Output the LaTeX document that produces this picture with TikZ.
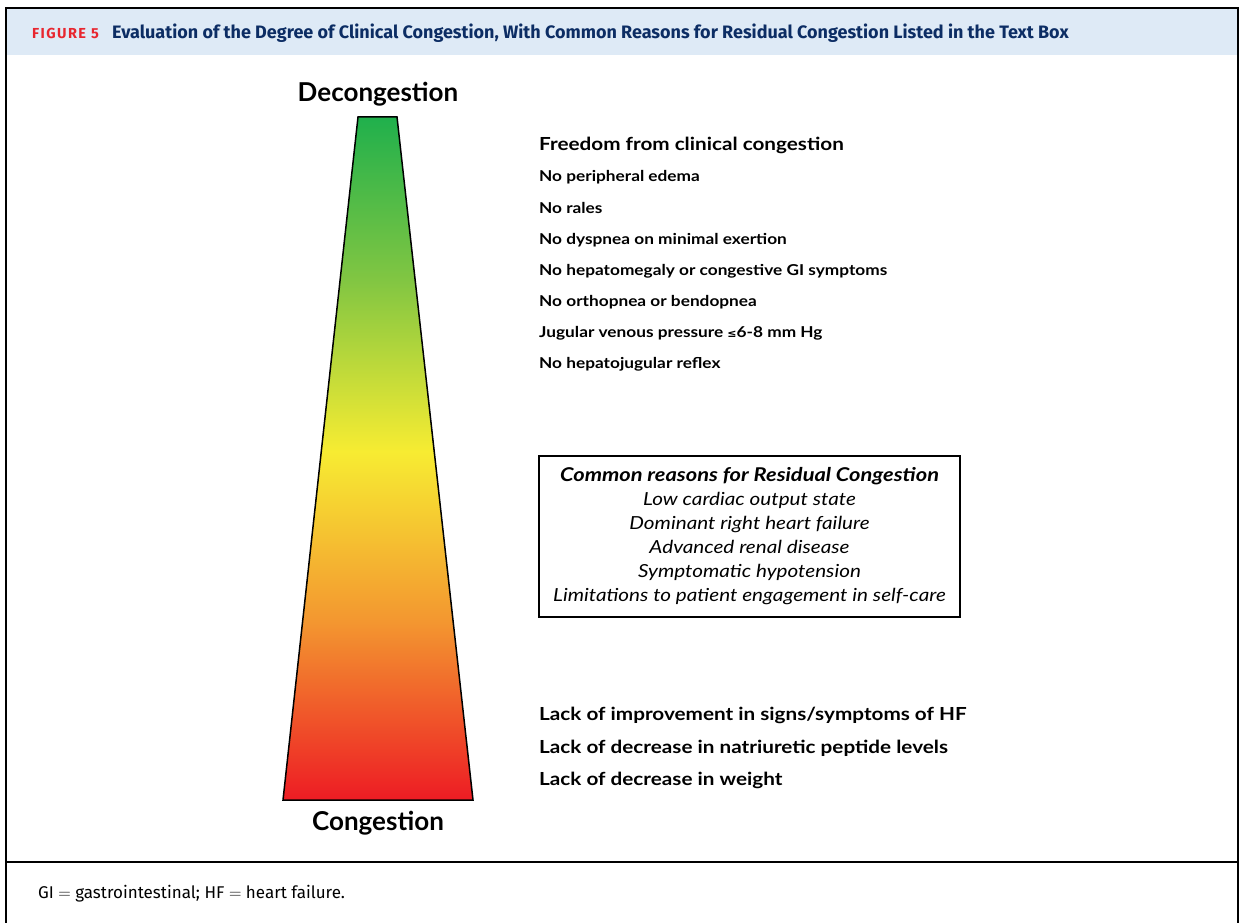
\documentclass[tikz,border=0pt]{standalone}
\usepackage{fontspec}
\setmainfont{Lato}
\newfontfamily\widefont[FakeStretch=1.15]{Lato}
\newfontfamily\capfont{Fira Sans}
\usetikzlibrary{positioning}
\definecolor{hdrblue}{RGB}{222,234,246}
\definecolor{hdrtext}{RGB}{12,45,100}
\definecolor{figred}{RGB}{232,38,47}
\definecolor{cred}{RGB}{237,28,36}
\definecolor{corange}{RGB}{243,150,48}
\definecolor{cyellow}{RGB}{247,236,50}
\definecolor{clgreen}{RGB}{130,198,66}
\definecolor{cgreen}{RGB}{32,176,76}
\pgfdeclareverticalshading{congest}{100bp}{color(0bp)=(cred); color(25bp)=(cred);
  color(38bp)=(corange); color(50.5bp)=(cyellow); color(63bp)=(clgreen);
  color(75bp)=(cgreen); color(100bp)=(cgreen)}

\begin{document}
\begin{tikzpicture}[x=1pt,y=-1pt,
    item/.style={anchor=base west,inner sep=0,font=\widefont\fontsize{15}{17}\bfseries},
    bigitem/.style={anchor=base west,inner sep=0,font=\widefont\fontsize{18}{20}\bfseries},
    pole/.style={anchor=base,inner sep=0,font=\fontsize{26}{28}\bfseries}]
  \useasboundingbox (0,0) rectangle (1242,923);
  % frame and header
  \fill[hdrblue] (7,9) rectangle (1237,55);
  \draw[line width=2] (6,923) -- (6,8) -- (1238,8) -- (1238,923);
  \draw[line width=1.5] (6,862) -- (1238,862);
  \node[anchor=base west,inner sep=0,text=figred,font=\capfont\fontsize{14.5}{16}\bfseries\addfontfeatures{LetterSpace=10}] (fig) at (32,39) {FIGURE 5};
  \node[anchor=base west,inner sep=0,text=hdrtext,font=\capfont\fontsize{18}{20}\bfseries] (title) at (112,39)
    {Evaluation of the Degree of Clinical Congestion, With Common Reasons for Residual Congestion Listed in the Text Box};
  % trapezoid
  \shade[shading=congest,draw=black,line width=1.5,line join=miter]
    (358,117) -- (397,117) -- (473,800) -- (283,800) -- cycle;
  \node[pole] (decong) at (378,102) {Decongestion};
  \node[pole] (cong) at (378,830) {Congestion};
  % freedom list
  \node[bigitem] (free) at (539,150) {Freedom from clinical congestion};
  \node[item] (f1) at (539,181) {No peripheral edema};
  \node[item] (f2) at (539,213) {No rales};
  \node[item] (f3) at (539,244) {No dyspnea on minimal exertion};
  \node[item] (f4) at (539,275) {No hepatomegaly or congestive GI symptoms};
  \node[item] (f5) at (539,306) {No orthopnea or bendopnea};
  \node[item] (f6) at (539,337) {Jugular venous pressure {\fontspec{DejaVu Sans}\fontsize{11}{12}\selectfont ≤}6-8 mm Hg};
  \node[item] (f7) at (539,368) {No hepatojugular reflex};
  % text box
  \node[draw,line width=1.5,minimum width=421,minimum height=161,align=center,
        font=\widefont\fontsize{18}{24}\selectfont\itshape] (reasons) at (749.5,536.5)
    {{\fontsize{19}{24}\selectfont\bfseries\itshape Common reasons for Residual Congestion}\\
     Low cardiac output state\\
     Dominant right heart failure\\
     Advanced renal disease\\
     Symptomatic hypotension\\
     Limitations to patient engagement in self-care};
  % lack list
  \node[bigitem] (l1) at (539,720) {Lack of improvement in signs/symptoms of HF};
  \node[bigitem] (l2) at (539,753) {Lack of decrease in natriuretic peptide levels};
  \node[bigitem] (l3) at (539,785) {Lack of decrease in weight};
  % footnote
  \node[anchor=base west,inner sep=0,font=\capfont\fontsize{17}{19}\selectfont] (foot) at (38,898)
    {GI $=$ gastrointestinal; HF $=$ heart failure.};
\end{tikzpicture}
\end{document}
